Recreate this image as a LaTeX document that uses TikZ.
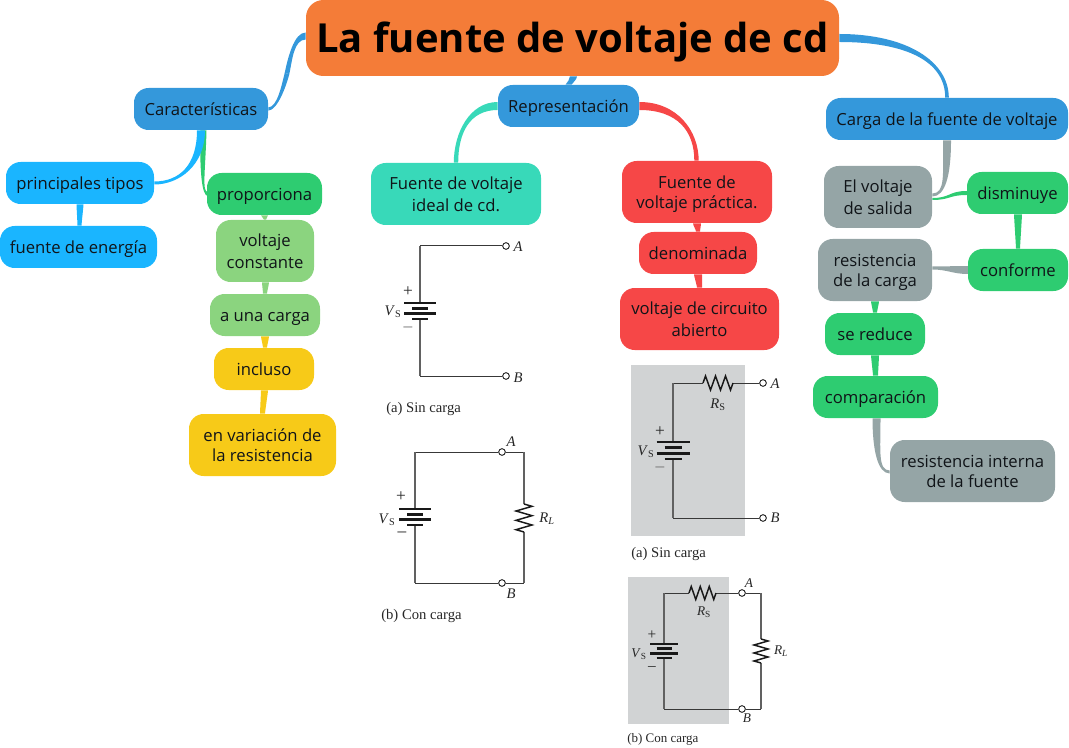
\documentclass[tikz,border=0pt]{standalone}
\usepackage{fontspec}
\setmainfont{Open Sans}
\newfontfamily\cf{Liberation Serif}
\usetikzlibrary{calc}
\pgfdeclarelayer{conn}
\pgfdeclarelayer{panel}
\pgfsetlayers{panel,conn,main}
\definecolor{cOrange}{HTML}{F47C38}
\definecolor{cBlue}{HTML}{3498DB}
\definecolor{cSky}{HTML}{1AB5FF}
\definecolor{cGreen}{HTML}{2ECC71}
\definecolor{cLime}{HTML}{8BD47F}
\definecolor{cYellow}{HTML}{F7CA18}
\definecolor{cTeal}{HTML}{38D9B9}
\definecolor{cRed}{HTML}{F64747}
\definecolor{cGray}{HTML}{95A5A6}
\definecolor{cPanel}{HTML}{D1D3D4}
\definecolor{cInk}{HTML}{101418}
\tikzset{
  box/.style={rectangle,rounded corners=11pt,inner sep=0pt,align=center,text=cInk,
    font=\fontsize{12.5}{15}\selectfont},
  titlebox/.style={box,rounded corners=13pt,text=black,font=\fontsize{30}{36}\selectfont\bfseries},
  wire/.style={line width=0.75pt,draw=black!78},
  wirev/.style={line width=0.9pt,draw=black!62},
  plate/.style={line width=1.8pt,draw=black!90},
  res/.style={line width=1.1pt,draw=black!90,line join=miter},
  term/.style={circle,draw=black,line width=0.6pt,fill=white,inner sep=0pt,minimum size=5pt},
  clab/.style={inner sep=0pt,text=black!85,font=\cf\fontsize{11}{12}\selectfont},
  clabs/.style={clab,font=\cf\fontsize{10}{11}\selectfont},
  sign/.style={inner sep=0pt,text=black!85,font=\cf\fontsize{13}{13}\selectfont},
  signs/.style={sign,font=\cf\fontsize{11.5}{12}\selectfont},
  capt/.style={inner sep=0pt,anchor=west,text=black!85,font=\cf\fontsize{11}{12}\selectfont},
  capts/.style={capt,font=\cf\fontsize{9.75}{11}\selectfont},
}
\newcommand\st{\rule[-2.5pt]{0pt}{15pt}}
% box given by its left, top, right, bottom edges
\newcommand\bx[7]{\node[#2,fill=#1,minimum width={(#5-#3)*0.75pt},minimum height={(#6-#4)*0.75pt}]
  (#7) at ({(#3+#5)/2},{(#4+#6)/2})}
% tapered connector: colour, start, ctrl1 offset, ctrl2 offset, end, half-width vector at start, at end
\newcommand\conn[7]{%
  \coordinate (S) at (#2); \coordinate (E) at (#5);
  \fill[#1] ($(S)+(#6)$) .. controls ($(S)+(#3)+(#6)$) and ($(E)+(#4)+(#7)$) .. ($(E)+(#7)$)
    -- ($(E)-(#7)$) .. controls ($(E)+(#4)-(#7)$) and ($(S)+(#3)-(#6)$) .. ($(S)-(#6)$) -- cycle;}
% straight taper between two vertically stacked anchors
\newcommand\stem[5]{\conn{#1}{#2}{0,2}{0,-2}{#3}{#4,0}{#5,0}}
% battery: x, first plate y, gap, long half, short half
\newcommand\batt[5]{%
  \draw[plate] ({#1-#4},{#2}) -- ({#1+#4},{#2});
  \draw[plate] ({#1-#5},{#2+#3}) -- ({#1+#5},{#2+#3});
  \draw[plate] ({#1-#4},{#2+2*#3}) -- ({#1+#4},{#2+2*#3});
  \draw[plate] ({#1-#5},{#2+3*#3}) -- ({#1+#5},{#2+3*#3});}
% horizontal resistor: x0, y, length, amplitude
\newcommand\hres[4]{\draw[res] (#1,#2) -- ++({#3/12},{-#4}) -- ++({#3/6},{2*#4}) -- ++({#3/6},{-2*#4})
  -- ++({#3/6},{2*#4}) -- ++({#3/6},{-2*#4}) -- ++({#3/6},{2*#4}) -- ++({#3/12},{-#4});}
% vertical resistor: x, y0, length, amplitude
\newcommand\vres[4]{\draw[res] (#1,#2) -- ++({#4},{#3/12}) -- ++({-2*#4},{#3/6}) -- ++({2*#4},{#3/6})
  -- ++({-2*#4},{#3/6}) -- ++({2*#4},{#3/6}) -- ++({-2*#4},{#3/6}) -- ++({#4},{#3/12});}
\newcommand\Vs{\textit{V}\textsubscript{S}}
\newcommand\Rs{\textit{R}\textsubscript{S}}
\newcommand\Rl{\textit{R}\textsubscript{\textit{L}}}
\begin{document}
\begin{tikzpicture}[x=0.75pt,y=-0.75pt]
\useasboundingbox (0,0) rectangle (1069,748);
% ---------- nodes
\bx{cOrange}{titlebox}{306}{0}{839}{76}{title} {\rule[-6pt]{0pt}{35.5pt}La fuente de voltaje de cd};
\bx{cBlue}{box}{134}{88}{268}{130}{carac} {\st Características};
\bx{cSky}{box}{6}{162}{154}{204}{tipos} {\st principales tipos};
\bx{cSky}{box}{0}{226}{157}{268}{energia} {\st fuente de energía};
\bx{cGreen}{box}{207}{173}{322}{215}{propor} {\st proporciona};
\bx{cLime}{box}{216}{220}{314}{282}{constante} {\st voltaje\\\st constante};
\bx{cLime}{box}{210}{294}{320}{336}{unacarga} {\st a una carga};
\bx{cYellow}{box}{214}{348}{314}{390}{incluso} {\st incluso};
\bx{cYellow}{box}{189}{414}{336}{476}{variacion} {\st en variación de\\\st la resistencia};
\bx{cBlue}{box}{498}{85}{639}{127}{repre} {\st Representación};
\bx{cTeal}{box}{371}{163}{541}{225}{ideal} {\st Fuente de voltaje\\\st ideal de cd.};
\bx{cRed}{box}{622}{161}{772}{223}{practica} {\st Fuente de\\\st voltaje práctica.};
\bx{cRed}{box}{639}{232}{757}{274}{denom} {\st denominada};
\bx{cRed}{box}{620}{288}{779}{350}{abierto} {\st voltaje de circuito\\\st abierto};
\bx{cBlue}{box}{826}{98}{1068}{140}{cargaf} {\st Carga de la fuente de voltaje};
\bx{cGray}{box}{824}{166}{932}{228}{salida} {\st El voltaje\\\st de salida};
\bx{cGreen}{box}{967}{172}{1068}{214}{dismin} {\st disminuye};
\bx{cGray}{box}{818}{239}{932}{301}{rcarga} {\st resistencia\\\st de la carga};
\bx{cGreen}{box}{968}{249}{1068}{291}{conforme} {\st conforme};
\bx{cGreen}{box}{825}{313}{925}{355}{reduce} {\st se reduce};
\bx{cGreen}{box}{813}{376}{938}{418}{compara} {\st comparación};
\bx{cGray}{box}{890}{440}{1055}{502}{interna} {\st resistencia interna\\\st de la fuente};
% ---------- connectors
\begin{pgfonlayer}{conn}
\coordinate (tcm) at ($(title.west)!0.5!(carac.east)$);
\conn{cBlue}{$(title.west)+(0,-2)$}{-12,0}{3,-14}{tcm}{0,3.5}{2.3,0.6}
\conn{cBlue}{tcm}{-3,12}{9,0}{carac.east}{2.3,0.6}{0,1.6}
\conn{cBlue}{$(title.south)+(1,0)$}{0,3}{2,-3}{repre.north}{3.5,0}{3,0}
\conn{cBlue}{title.east}{68,0}{0,-36}{cargaf.north}{0,4}{-1.8,0}
\conn{cGreen}{$(carac.south)+(2.5,0)$}{-1,40}{-6,0}{$(propor.west)+(1,0)$}{3,0}{0,-2}
\conn{cSky}{carac.south}{0,35}{25,0}{tipos.east}{4,0}{0,1.5}
\stem{cSky}{tipos.south}{$(energia.north)+(1,0)$}{3.5}{2}
\stem{cLime}{propor.south}{constante.north}{3.5}{1}
\stem{cLime}{$(constante.south)+(0.5,0)$}{unacarga.north}{3.5}{2}
\stem{cYellow}{unacarga.south}{$(incluso.north)+(1,0)$}{4}{2}
\stem{cYellow}{$(incluso.south)+(0.5,0)$}{variacion.north}{3.5}{2.5}
\conn{cTeal}{repre.west}{-28,0}{0,-30}{ideal.north}{0,4}{2.2,0}
\conn{cRed}{repre.east}{38,0}{0,-30}{$(practica.north)+(-0.5,0)$}{0,4}{-2.2,0}
\stem{cRed}{practica.south}{denom.north}{4}{2}
\stem{cRed}{denom.south}{abierto.north}{4}{2.5}
\conn{cGray}{cargaf.south}{0,35}{13,0}{$(salida.east)+(0,-2)$}{4,0}{0,1.5}
\conn{cGreen}{$(salida.east)+(0,2)$}{18,0}{-18,0}{dismin.west}{0,1}{0,2}
\stem{cGreen}{$(dismin.south)+(0.5,0)$}{conforme.north}{4}{2}
\conn{cGray}{conforme.west}{-15,0}{15,0}{$(rcarga.east)+(0,-2)$}{0,4}{0,1.5}
\stem{cGreen}{rcarga.south}{reduce.north}{4}{2}
\stem{cGreen}{reduce.south}{compara.north}{4}{2.5}
\conn{cGray}{$(compara.south)+(1,0)$}{0,32}{-12,0}{$(interna.west)+(0,1)$}{4,0}{0,-1.5}
\end{pgfonlayer}
% ---------- circuit 1
\node[term] (a1) at (506,246) {};
\node[term] (b1) at (506,376) {};
\node[clab] (la1) at (518,247) {\textit{A}};
\node[clab] (lb1) at (518,378) {\textit{B}};
\draw[wire] (a1) -- (420,246);
\draw[wire] (b1) -- (420,376);
\draw[wirev] (420,246) -- (420,303);
\draw[wirev] (420,319) -- (420,376);
\batt{420}{303}{5.33}{16}{8}
\node[sign] (p1) at (408,292) {+};
\node[sign,text=black!55] (m1) at (408,329) {–};
\node[clab] (v1) at (393,312) {\Vs};
\node[capt] (c1) at (386,409) {(a) Sin carga};
% ---------- circuit 2
\node[term] (a2) at (502,452) {};
\node[term] (b2) at (502,583) {};
\node[clab] (la2) at (511,442) {\textit{A}};
\node[clab] (lb2) at (511,594) {\textit{B}};
\draw[wire] (a2) -- (415,452);
\draw[wire] (b2) -- (415,583);
\draw[wire] (a2) -- (524,452);
\draw[wire] (b2) -- (524,583);
\draw[wirev] (415,452) -- (415,509);
\draw[wirev] (415,525) -- (415,583);
\draw[wirev] (524,452) -- (524,504);
\draw[wirev] (524,532) -- (524,583);
\batt{415}{509}{5.33}{16}{8}
\vres{524}{504}{28}{8}
\node[sign] (p2) at (401,497) {+};
\node[sign] (m2) at (402,534) {–};
\node[clab] (v2) at (387,520) {\Vs};
\node[clab] (r2) at (547,519) {\Rl};
\node[capt] (c2) at (381,616) {(b) Con carga};
% ---------- circuit 3
\begin{pgfonlayer}{panel}
\fill[cPanel] (631,365) rectangle (745,536);
\fill[cPanel] (628,577) rectangle (729,724);
\end{pgfonlayer}
\node[term] (a3) at (763,383) {};
\node[term] (b3) at (763,518) {};
\node[clab] (la3) at (775,384) {\textit{A}};
\node[clab] (lb3) at (775,518) {\textit{B}};
\draw[wire] (a3) -- (733,383);
\draw[wire] (703,383) -- (673,383);
\draw[wire] (b3) -- (673,518);
\draw[wirev] (673,383) -- (673,442);
\draw[wirev] (673,459) -- (673,518);
\hres{703}{383}{30}{7}
\batt{673}{442}{5.67}{16.5}{8.5}
\node[sign] (p3) at (660,432) {+};
\node[sign,text=black!55] (m3) at (660,469) {–};
\node[clab] (v3) at (646,452) {\Vs};
\node[clab] (r3) at (718,405) {\Rs};
\node[capt] (c3) at (631,554) {(a) Sin carga};
% ---------- circuit 4
\node[term] (a4) at (742,593) {};
\node[term] (b4) at (742,709) {};
\node[clabs] (la4) at (749,583) {\textit{A}};
\node[clabs] (lb4) at (747,718) {\textit{B}};
\draw[wire] (a4) -- (716,593);
\draw[wire] (689,593) -- (664,593);
\draw[wire] (b4) -- (664,709);
\draw[wire] (a4) -- (761,593);
\draw[wire] (b4) -- (761,709);
\draw[wirev] (664,593) -- (664,644);
\draw[wirev] (664,658) -- (664,709);
\draw[wirev] (761,593) -- (761,639);
\draw[wirev] (761,663) -- (761,709);
\hres{689}{593}{27}{6.5}
\vres{761}{639}{24}{7}
\batt{664}{644}{4.67}{14}{7.5}
\node[signs] (p4) at (652,635) {+};
\node[signs] (m4) at (652,669) {–};
\node[clabs] (v4) at (639,654) {\Vs};
\node[clabs] (r4) at (704,612) {\Rs};
\node[clabs] (s4) at (781,651) {\Rl};
\node[capts] (c4) at (627,739) {(b) Con carga};
\end{tikzpicture}
\end{document}
